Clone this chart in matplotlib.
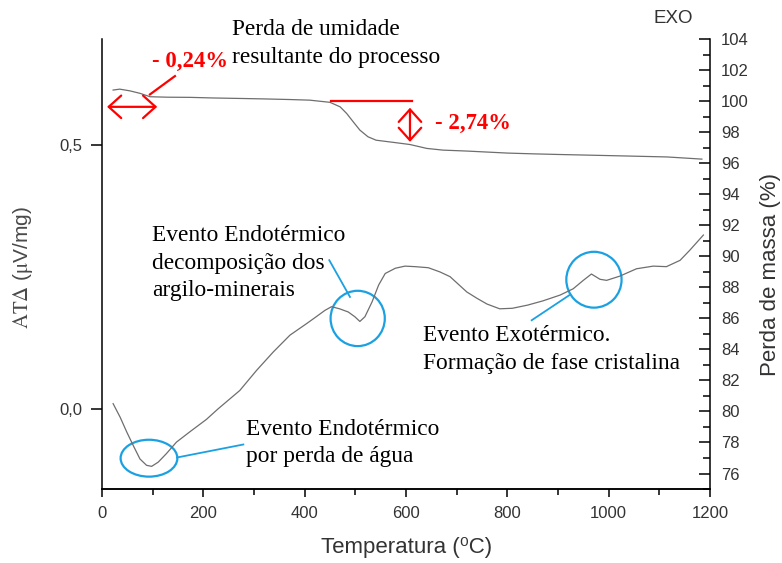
import matplotlib
matplotlib.use("Agg")
import matplotlib.pyplot as plt
from matplotlib.patches import Ellipse
from matplotlib.ticker import MultipleLocator, FixedLocator, FuncFormatter

plt.rcParams["mathtext.fontset"] = "stix"
plt.rcParams["font.family"] = ["Liberation Sans", "DejaVu Sans"]

# DTA signal (left axis, uV/mg) vs temperature
dta_temp = [22, 36, 49, 62, 75, 88, 98, 111, 127, 147, 174, 206, 229, 272, 305,
            338, 371, 404, 420, 440, 453, 469, 486, 499, 509, 519, 533, 546, 559,
            579, 598, 618, 644, 667, 687, 720, 740, 760, 785, 810, 840, 870, 904,
            930, 950, 966, 983, 996, 1022, 1055, 1088, 1114, 1141, 1160, 1187]
dta_val = [0.010, -0.016, -0.044, -0.070, -0.095, -0.107, -0.109, -0.101, -0.085,
           -0.063, -0.043, -0.020, 0.000, 0.035, 0.073, 0.108, 0.140, 0.162, 0.173,
           0.187, 0.194, 0.190, 0.184, 0.175, 0.166, 0.175, 0.203, 0.235, 0.257,
           0.267, 0.271, 0.270, 0.268, 0.260, 0.251, 0.222, 0.210, 0.199, 0.190,
           0.191, 0.197, 0.205, 0.216, 0.228, 0.244, 0.256, 0.246, 0.244, 0.252,
           0.266, 0.271, 0.270, 0.282, 0.301, 0.330]

# TG mass curve (right axis, %)
tg_temp = [22, 35, 55, 75, 95, 130, 174, 220, 272, 320, 371, 410, 450, 470, 483,
           496, 509, 525, 541, 575, 608, 641, 673, 720, 800, 851, 900, 983, 1050,
           1115, 1150, 1184]
tg_mass = [100.71, 100.77, 100.66, 100.50, 100.28, 100.25, 100.24, 100.20, 100.17,
           100.14, 100.10, 100.06, 99.92, 99.63, 99.20, 98.66, 98.13, 97.70, 97.48,
           97.34, 97.20, 96.95, 96.84, 96.78, 96.65, 96.60, 96.56, 96.50, 96.45,
           96.40, 96.33, 96.26]

loss_moisture = "- 0,24%"
loss_total = "- 2,74%"

INK = "#333333"
BLUE = "#1ba1e2"
RED = "#ff0000"
SERIF = ["Liberation Serif", "DejaVu Serif"]

fig = plt.figure(figsize=(7.82, 5.63), dpi=100)
ax = fig.add_axes([0.1304, 0.1314, 0.7775, 0.7993])
ax2 = ax.twinx()

ax.plot(dta_temp, dta_val, color="#6e6e6e", lw=0.9)
ax2.plot(tg_temp, tg_mass, color="#6e6e6e", lw=0.9)

ax.set_xlim(0, 1200)
ax.set_ylim(-0.152, 0.702)
ax2.set_ylim(75, 104)

for a in (ax, ax2):
    a.spines["top"].set_visible(False)
    for s in a.spines.values():
        s.set_linewidth(1.1)
ax.spines["right"].set_visible(False)
ax2.spines["left"].set_visible(False)

ax.xaxis.set_major_locator(MultipleLocator(200))
ax.xaxis.set_minor_locator(MultipleLocator(100))
ax.yaxis.set_major_locator(FixedLocator([0.0, 0.5]))
ax.yaxis.set_major_formatter(FuncFormatter(lambda v, p: f"{v:.1f}".replace(".", ",")))
ax.tick_params(axis="x", which="major", direction="out", length=6, width=1.1,
               labelsize=12, labelcolor=INK, pad=6)
ax.tick_params(axis="x", which="minor", direction="out", length=4, width=1.1)
ax.tick_params(axis="y", which="major", direction="out", length=8, width=1.1,
               labelsize=12, labelcolor=INK, pad=6)

ax2.yaxis.set_major_locator(MultipleLocator(2))
ax2.yaxis.set_minor_locator(MultipleLocator(1))
ax2.tick_params(axis="y", which="major", direction="in", length=8, width=1.1,
                labelsize=12, labelcolor=INK, pad=8)
ax2.tick_params(axis="y", which="minor", direction="in", length=5, width=1.1)

fig.text(0.520, 0.027, "Temperatura (⁰C)", ha="center", va="center", fontsize=16, color=INK)
fig.text(0.030, 0.525, r"$\mathrm{AT}\Delta$ ($\mathrm{\mu}$V/mg)", rotation=90,
         ha="center", va="center", fontsize=15, color="#4a4a4a")
fig.text(0.985, 0.512, "Perda de massa (%)", rotation=90, ha="center", va="center",
         fontsize=16, color=INK)
fig.text(0.861, 0.967, "EXO", ha="center", va="center", fontsize=13.5, color=INK)

# thermal events on the DTA curve
ax.add_patch(Ellipse((92.8, -0.0935), 112, 0.070, fill=False, ec=BLUE, lw=1.6))
ax.add_patch(Ellipse((504.7, 0.1717), 107, 0.105, fill=False, ec=BLUE, lw=1.6))
ax.add_patch(Ellipse((971, 0.2452), 109, 0.106, fill=False, ec=BLUE, lw=1.6))
ax.plot([148, 279], [-0.0922, -0.0675], color=BLUE, lw=1.3)
ax.plot([489.5, 448.6], [0.2125, 0.2823], color=BLUE, lw=1.3)
ax.plot([922.3, 848.1], [0.2158, 0.1683], color=BLUE, lw=1.3)

ax.text(284, -0.0646, "Evento Endotérmico\npor perda de água", family=SERIF,
        fontsize=16.8, ha="left", va="center", linespacing=1.4)
ax.text(98, 0.2766, "Evento Endotérmico\ndecomposição dos\nargilo-minerais",
        family=SERIF, fontsize=16.8, ha="left", va="center", linespacing=1.4)
ax.text(634, 0.113, "Evento Exotérmico.\nFormação de fase cristalina", family=SERIF,
        fontsize=16.8, ha="left", va="center", linespacing=1.4)

# mass-loss markers on the TG curve
ax2.text(256.6, 103.72, "Perda de umidade\nresultante do processo", family=SERIF,
         fontsize=16.8, ha="left", va="center", linespacing=1.4, clip_on=False)
ax2.annotate("", xy=(10, 99.63), xytext=(109, 99.63),
             arrowprops=dict(arrowstyle="<->,head_length=0.5,head_width=0.45",
                             color=RED, lw=1.6, shrinkA=0, shrinkB=0, mutation_scale=18))
ax2.plot([94.7, 144], [100.43, 101.61], color=RED, lw=1.6)
ax2.text(98, 102.58, loss_moisture, family=SERIF, fontweight="bold", fontsize=16.4,
         color=RED, ha="left", va="center")
ax2.plot([453, 611], [100.0, 100.0], color=RED, lw=1.6)
ax2.annotate("", xy=(607.9, 99.57), xytext=(607.9, 97.37),
             arrowprops=dict(arrowstyle="<->,head_length=0.5,head_width=0.45",
                             color=RED, lw=1.6, shrinkA=0, shrinkB=0, mutation_scale=18))
ax2.text(657, 98.58, loss_total, family=SERIF, fontweight="bold", fontsize=16.4,
         color=RED, ha="left", va="center")

fig.savefig("out.png", dpi=100)
